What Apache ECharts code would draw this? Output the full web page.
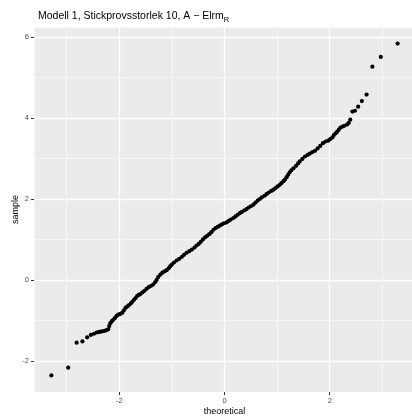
<!DOCTYPE html>
<html>
<head>
<meta charset="utf-8">
<script src="https://cdn.jsdelivr.net/npm/echarts@6/dist/echarts.min.js"></script>
<style>
  html, body { margin: 0; padding: 0; background: #fff; }
  #chart { width: 412px; height: 417px; }
</style>
</head>
<body>
<div id="chart"></div>
<script>
// theoretical quantiles and sample values
var theoretical = [
  -3.29, -2.97, -2.81, -2.70, -2.61, -2.54, -2.48, -2.43, -2.39,
  -2.36, -2.32, -2.28, -2.24, -2.21, -2.19, -2.17, -2.14, -2.11, -2.08, -2.05, -2.02, -1.98, -1.94,
  -1.91, -1.88, -1.85, -1.82, -1.78, -1.75, -1.72, -1.69, -1.66, -1.63, -1.60, -1.56, -1.52, -1.48,
  -1.44, -1.40, -1.36, -1.32, -1.29, -1.26, -1.22, -1.18, -1.14, -1.10, -1.06, -1.03, -1.00, -0.96,
  -0.91, -0.86, -0.81, -0.77, -0.72, -0.67, -0.62, -0.57, -0.53, -0.49, -0.45, -0.41, -0.37, -0.33,
  -0.29, -0.25, -0.21, -0.17, -0.13, -0.09, -0.05, -0.01, 0.04, 0.08, 0.12, 0.17, 0.21, 0.25,
  0.29, 0.33, 0.38, 0.42, 0.46, 0.50, 0.55, 0.59, 0.63, 0.67, 0.71, 0.76, 0.80, 0.84, 0.89, 0.93,
  0.97, 1.01, 1.05, 1.08, 1.12, 1.15, 1.18, 1.21, 1.24, 1.27, 1.31, 1.36, 1.40, 1.43, 1.48, 1.53,
  1.58, 1.62, 1.67, 1.72, 1.77, 1.82, 1.87, 1.92, 1.97, 2.01, 2.05, 2.08, 2.11, 2.14, 2.17, 2.20,
  2.24, 2.28, 2.33, 2.36,
  2.39, 2.43, 2.48, 2.54, 2.61, 2.70, 2.81, 2.97, 3.29
];
var sample = [
  -2.36, -2.17, -1.55, -1.52, -1.42, -1.36, -1.33, -1.30, -1.29,
  -1.28, -1.27, -1.26, -1.24, -1.22, -1.14, -1.07, -1.02, -0.98, -0.94, -0.89, -0.86, -0.84, -0.81,
  -0.75, -0.69, -0.66, -0.63, -0.58, -0.54, -0.49, -0.45, -0.40, -0.37, -0.35, -0.31, -0.27, -0.22,
  -0.18, -0.15, -0.12, -0.06, 0.00, 0.07, 0.13, 0.18, 0.21, 0.24, 0.29, 0.34, 0.38, 0.43,
  0.48, 0.52, 0.57, 0.62, 0.67, 0.71, 0.75, 0.80, 0.85, 0.89, 0.94, 1.00, 1.05, 1.09,
  1.13, 1.18, 1.24, 1.28, 1.31, 1.34, 1.37, 1.40, 1.42, 1.46, 1.49, 1.53, 1.57, 1.61,
  1.65, 1.68, 1.72, 1.75, 1.79, 1.82, 1.86, 1.91, 1.96, 2.00, 2.04, 2.08, 2.12, 2.16, 2.20, 2.23,
  2.27, 2.31, 2.35, 2.39, 2.44, 2.48, 2.54, 2.60, 2.66, 2.71, 2.76, 2.82, 2.88, 2.93, 2.99, 3.05,
  3.09, 3.12, 3.16, 3.19, 3.25, 3.31, 3.38, 3.42, 3.44, 3.48, 3.52, 3.58, 3.62, 3.66, 3.71, 3.76,
  3.79, 3.81, 3.84, 3.88,
  3.96, 4.16, 4.18, 4.28, 4.42, 4.58, 5.27, 5.51, 5.84
];
var xTicks = [-2, 0, 2];
var yTicks = [-2, 0, 2, 4, 6];

var points = [];
for (var i = 0; i < theoretical.length; i++) {
  points.push([theoretical[i], sample[i]]);
}

var font = 'Liberation Sans, Arial, Helvetica, sans-serif';
var xMin = -3.62, xMax = 3.62, yMin = -2.77, yMax = 6.25;

function majorAxis(min, max, ticks, name, gap) {
  return {
    type: 'value',
    min: min,
    max: max,
    minInterval: 2,
    maxInterval: 2,
    name: name,
    nameLocation: 'middle',
    nameGap: gap,
    nameMoveOverlap: false,
    nameTextStyle: { fontFamily: font, fontSize: 9, color: '#000' },
    axisLine: { show: false, onZero: false },
    axisTick: { show: true, length: 3, customValues: ticks, lineStyle: { color: '#333333', width: 1 } },
    axisLabel: { fontFamily: font, fontSize: 7.5, color: '#4D4D4D', margin: 5, customValues: ticks },
    splitLine: { show: true, lineStyle: { color: '#ffffff', width: 1.3 } }
  };
}
function minorAxis(min, max) {
  return {
    type: 'value',
    min: min,
    max: max,
    minInterval: 1,
    maxInterval: 1,
    axisLine: { show: false, onZero: false },
    axisTick: { show: false },
    axisLabel: { show: false },
    splitLine: { show: true, lineStyle: { color: '#ffffff', width: 0.6 } }
  };
}

var xMajor = majorAxis(xMin, xMax, xTicks, 'theoretical', 15);
xMajor.position = 'bottom';
var xMinor = minorAxis(xMin, xMax);
xMinor.position = 'bottom';
var yMajor = majorAxis(yMin, yMax, yTicks, 'sample', 14);
yMajor.position = 'left';
var yMinor = minorAxis(yMin, yMax);
yMinor.position = 'left';

var chart = echarts.init(document.getElementById('chart'), null, { renderer: 'canvas' });
var option = {
  backgroundColor: '#ffffff',
  animation: false,
  title: {
    text: '{a|Modell 1, Stickprovsstorlek 10, A \u2212 Elrm}{sub|R}',
    left: 33,
    top: 3,
    textStyle: {
      rich: {
        a: { fontFamily: font, fontSize: 10.5, fontWeight: 'normal', color: '#000', verticalAlign: 'bottom', lineHeight: 14 },
        sub: { fontFamily: font, fontSize: 7.5, fontWeight: 'normal', color: '#000', verticalAlign: 'bottom', lineHeight: 10, padding: [0, 0, -2, 0] }
      }
    }
  },
  grid: {
    left: 34,
    right: -3,
    top: 27,
    bottom: 25,
    containLabel: false,
    outerBoundsMode: 'none',
    show: true,
    backgroundColor: '#EBEBEB',
    borderWidth: 0
  },
  xAxis: [xMajor, xMinor],
  yAxis: [yMajor, yMinor],
  series: [{
    type: 'scatter',
    xAxisIndex: 0,
    yAxisIndex: 0,
    data: points,
    symbol: 'circle',
    symbolSize: 4.2,
    itemStyle: { color: '#000000', opacity: 1 },
    silent: true
  }]
};
chart.setOption(option);
</script>
</body>
</html>
